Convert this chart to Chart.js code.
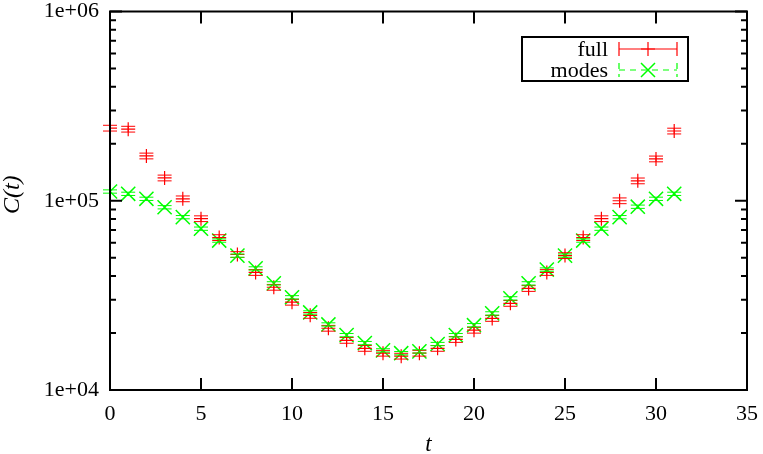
<!DOCTYPE html>
<html>
<head>
<meta charset="utf-8">
<script src="https://cdn.jsdelivr.net/npm/chart.js@4.4.0/dist/chart.umd.min.js"></script>
<style>
  html, body { margin: 0; padding: 0; background: #fff; }
</style>
</head>
<body>
<canvas id="chart" width="763" height="454"></canvas>
<script>
// time slices
const tValues = [0, 1, 2, 3, 4, 5, 6, 7, 8, 9, 10, 11, 12, 13, 14, 15,
                 16, 17, 18, 19, 20, 21, 22, 23, 24, 25, 26, 27, 28, 29, 30, 31];

// "full" correlator with relative errors
const fullValues = [242000, 239000, 172500, 132000, 102400, 80400, 63900, 52000, 41800, 34900, 29100, 24800,
                    21200, 18300, 16600, 15650, 15100, 15650, 16600, 18500, 20700, 23900, 28700, 34400,
                    41800, 51300, 63900, 80400, 100000, 127400, 166400, 233600];
const fullErrors = [0.035, 0.035, 0.035, 0.035, 0.035, 0.035, 0.035, 0.035, 0.035, 0.035, 0.035, 0.035,
                    0.035, 0.035, 0.035, 0.035, 0.035, 0.035, 0.035, 0.035, 0.035, 0.035, 0.035, 0.035,
                    0.035, 0.035, 0.035, 0.035, 0.035, 0.035, 0.035, 0.035];

// "modes" correlator
const modesValues = [111900, 108800, 102400, 92400, 81900, 71200, 61600, 51300, 43900, 36600, 30900, 25700,
                     22200, 19500, 17700, 16200, 15650, 16000, 17500, 19500, 22000, 25400, 30500, 36600,
                     43300, 51300, 61600, 71200, 81900, 93000, 102400, 108800];
const modesErrors = [0.02, 0.02, 0.02, 0.02, 0.02, 0.02, 0.02, 0.02, 0.02, 0.02, 0.02, 0.02,
                     0.02, 0.02, 0.02, 0.02, 0.02, 0.02, 0.02, 0.02, 0.02, 0.02, 0.02, 0.02,
                     0.02, 0.02, 0.02, 0.02, 0.02, 0.02, 0.02, 0.02];

const xTicks = [0, 5, 10, 15, 20, 25, 30, 35];
const yDecades = [1e4, 1e5, 1e6];
const yTickLabels = ['1e+04', '1e+05', '1e+06'];
const minorSteps = [2, 3, 4, 5, 6, 7, 8, 9];

const serif = '"Liberation Serif", "DejaVu Serif", serif';
const RED = '#ff0000';
const GREEN = '#00ff00';

// error bars drawn through the scales
const errorBars = {
  id: 'errorBars',
  afterDatasetsDraw(chart) {
    const ctx = chart.ctx;
    const x = chart.scales.x, y = chart.scales.y;
    chart.data.datasets.forEach((ds) => {
      if (!ds.errors) return;
      ctx.save();
      ctx.strokeStyle = ds.borderColor;
      ctx.lineWidth = 1;
      ds.data.forEach((p, i) => {
        const px = x.getPixelForValue(p.x);
        const lo = y.getPixelForValue(p.y * (1 - ds.errors[i]));
        const hi = y.getPixelForValue(p.y * (1 + ds.errors[i]));
        ctx.beginPath();
        ctx.moveTo(px, lo); ctx.lineTo(px, hi);
        ctx.moveTo(px - 7, lo); ctx.lineTo(px + 7, lo);
        ctx.moveTo(px - 7, hi); ctx.lineTo(px + 7, hi);
        ctx.stroke();
      });
      ctx.restore();
    });
  }
};

// gnuplot-like frame, inward ticks and legend box
const frame = {
  id: 'frame',
  afterDraw(chart) {
    const ctx = chart.ctx;
    const a = chart.chartArea;
    const x = chart.scales.x, y = chart.scales.y;
    ctx.save();
    ctx.strokeStyle = '#000';
    ctx.lineWidth = 2;
    ctx.strokeRect(a.left, a.top, a.right - a.left, a.bottom - a.top);

    ctx.beginPath();
    xTicks.forEach((t) => {
      const px = x.getPixelForValue(t);
      ctx.moveTo(px, a.bottom); ctx.lineTo(px, a.bottom - 12);
      ctx.moveTo(px, a.top); ctx.lineTo(px, a.top + 12);
    });
    yDecades.forEach((d, k) => {
      const py = y.getPixelForValue(d);
      ctx.moveTo(a.left, py); ctx.lineTo(a.left + 12, py);
      ctx.moveTo(a.right, py); ctx.lineTo(a.right - 12, py);
      if (k < yDecades.length - 1) {
        minorSteps.forEach((m) => {
          const pm = y.getPixelForValue(d * m);
          ctx.moveTo(a.left, pm); ctx.lineTo(a.left + 6, pm);
          ctx.moveTo(a.right, pm); ctx.lineTo(a.right - 6, pm);
        });
      }
    });
    ctx.stroke();

    // legend
    const bx = 522, by = 37, bw = 166, bh = 44;
    ctx.lineWidth = 2;
    ctx.strokeRect(bx, by, bw, bh);
    ctx.font = '22px ' + serif;
    ctx.fillStyle = '#000';
    ctx.textAlign = 'right';
    ctx.textBaseline = 'middle';
    const rows = [49, 70];
    chart.data.datasets.forEach((ds, i) => {
      const ry = rows[i];
      ctx.fillText(ds.label, 608, ry + 1);
      ctx.strokeStyle = ds.borderColor;
      ctx.lineWidth = 1.2;
      ctx.setLineDash(ds.legendDash);
      ctx.beginPath();
      ctx.moveTo(619, ry); ctx.lineTo(677, ry);
      ctx.moveTo(619, ry - 7); ctx.lineTo(619, ry + 7);
      ctx.moveTo(677, ry - 7); ctx.lineTo(677, ry + 7);
      ctx.stroke();
      ctx.setLineDash([]);
      ctx.beginPath();
      if (ds.pointStyle === 'cross') {
        ctx.moveTo(648 - 7, ry); ctx.lineTo(648 + 7, ry);
        ctx.moveTo(648, ry - 7); ctx.lineTo(648, ry + 7);
      } else {
        ctx.lineWidth = 1.5;
        ctx.moveTo(648 - 7, ry - 7); ctx.lineTo(648 + 7, ry + 7);
        ctx.moveTo(648 - 7, ry + 7); ctx.lineTo(648 + 7, ry - 7);
      }
      ctx.stroke();
    });
    ctx.restore();
  }
};

new Chart(document.getElementById('chart'), {
  type: 'scatter',
  data: {
    datasets: [
      {
        label: 'full',
        data: tValues.map((t, i) => ({ x: t, y: fullValues[i] })),
        errors: fullErrors,
        legendDash: [],
        pointStyle: 'cross',
        pointRadius: 7,
        borderColor: RED,
        backgroundColor: RED,
        borderWidth: 1.2,
        showLine: false
      },
      {
        label: 'modes',
        data: tValues.map((t, i) => ({ x: t, y: modesValues[i] })),
        errors: modesErrors,
        legendDash: [6, 5],
        pointStyle: 'crossRot',
        pointRadius: 10,
        borderColor: GREEN,
        backgroundColor: GREEN,
        borderWidth: 1.5,
        showLine: false
      }
    ]
  },
  options: {
    responsive: false,
    animation: false,
    devicePixelRatio: 1,
    layout: { padding: { top: 10, right: 16, left: 0, bottom: 0 } },
    plugins: { legend: { display: false }, tooltip: { enabled: false } },
    scales: {
      x: {
        type: 'linear',
        min: 0,
        max: 35,
        afterBuildTicks(scale) { scale.ticks = xTicks.map((v) => ({ value: v })); },
        afterFit(scale) { scale.height = 64; scale.paddingLeft = 0; scale.paddingRight = 0; },
        ticks: { color: '#000', font: { family: serif, size: 22 }, padding: 11, maxRotation: 0, autoSkip: false },
        grid: { display: false, drawTicks: false },
        border: { display: false },
        title: {
          display: true, text: 't', color: '#000',
          font: { family: serif, size: 23, style: 'italic', lineHeight: 0.8 },
          padding: { top: 0, bottom: 0 }
        }
      },
      y: {
        type: 'logarithmic',
        min: 1e4,
        max: 1e6,
        afterBuildTicks(scale) { scale.ticks = yDecades.map((v) => ({ value: v, major: true })); },
        afterFit(scale) { scale.width = 110; scale.paddingTop = 0; scale.paddingBottom = 0; },
        ticks: {
          color: '#000', font: { family: serif, size: 22 }, padding: 11, autoSkip: false,
          callback(v) { const i = yDecades.indexOf(v); return i >= 0 ? yTickLabels[i] : ''; }
        },
        grid: { display: false, drawTicks: false },
        border: { display: false },
        title: {
          display: true, text: '\u2002C(t)', color: '#000',
          font: { family: serif, size: 24, style: 'italic', lineHeight: 1 },
          padding: { top: 1, bottom: 0 }
        }
      }
    }
  },
  plugins: [errorBars, frame]
});
</script>
</body>
</html>
